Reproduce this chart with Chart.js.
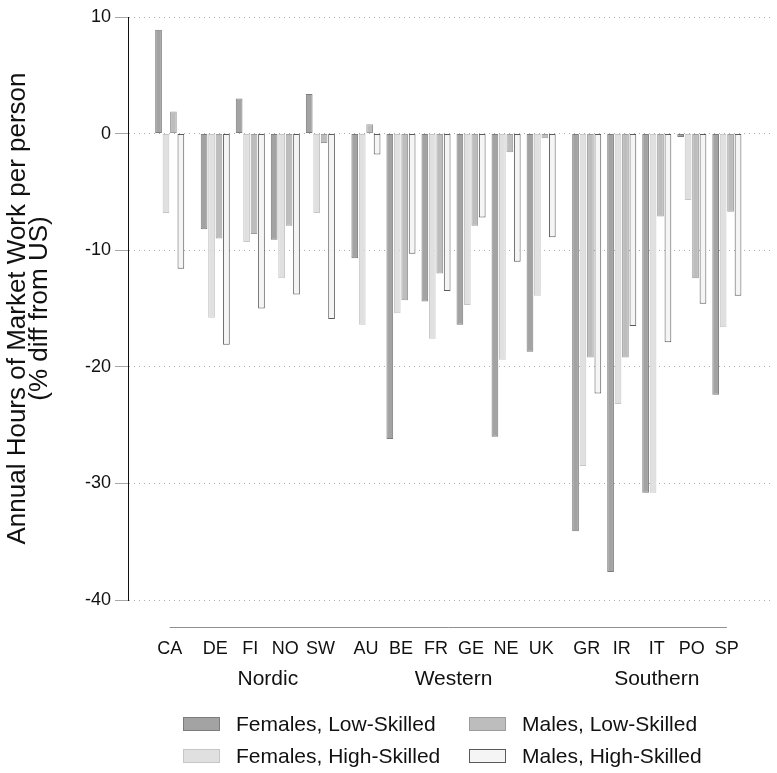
<!DOCTYPE html>
<html>
<head>
<meta charset="utf-8">
<script src="https://cdn.jsdelivr.net/npm/chart.js@4.4.1/dist/chart.umd.min.js"></script>
<style>
  html, body { margin: 0; padding: 0; background: #fff; }
  #wrap { position: relative; width: 777px; height: 773px; }
  #legend { position: absolute; left: 0; top: 0; width: 777px; height: 773px; pointer-events: none;
            font-family: "Liberation Sans", Arial, sans-serif; font-size: 21px; color: #111; }
  .item { position: absolute; display: flex; align-items: center; white-space: nowrap; height: 24px; }
  .sw { width: 37px; height: 14px; box-sizing: border-box; border: 1px solid; margin-right: 16px; }
</style>
</head>
<body>
<div id="wrap">
  <canvas id="chart" width="777" height="773"></canvas>
  <div id="legend"></div>
</div>
<script>
// ── Data ─────────────────────────────────────────────
const countries = ['CA', 'DE', 'FI', 'NO', 'SW', 'AU', 'BE', 'FR', 'GE', 'NE', 'UK', 'GR', 'IR', 'IT', 'PO', 'SP'];
const regionOf  = ['', 'Nordic', 'Nordic', 'Nordic', 'Nordic',
                   'Western', 'Western', 'Western', 'Western', 'Western', 'Western',
                   'Southern', 'Southern', 'Southern', 'Southern', 'Southern'];
const regions   = ['Nordic', 'Western', 'Southern'];

const femLow   = [8.9, -8.2, 3.0, -9.1, 3.4, -10.7, -26.2, -14.4, -16.4, -26.0, -18.7, -34.1, -37.6, -30.8, -0.3, -22.4];
const femHigh  = [-6.8, -15.8, -9.3, -12.4, -6.8, -16.4, -15.4, -17.6, -14.7, -19.4, -13.9, -28.5, -23.2, -30.8, -5.7, -16.6];
const maleLow  = [1.9, -9.0, -8.6, -7.9, -0.8, 0.8, -14.3, -12.0, -7.9, -1.6, -0.4, -19.2, -19.2, -7.1, -12.4, -6.7];
const maleHigh = [-11.6, -18.1, -15.0, -13.8, -15.9, -1.8, -10.3, -13.5, -7.2, -11.0, -8.9, -22.3, -16.5, -17.9, -14.6, -13.9];

const seriesNames = ['Females, Low-Skilled', 'Females, High-Skilled', 'Males, Low-Skilled', 'Males, High-Skilled'];
const yTicks = [10, 0, -10, -20, -30, -40];

// ── Layout helpers ───────────────────────────────────
// one unit per country, a little extra space where the region changes
let gap = 0;
const pos = countries.map((c, i) => {
  if (i > 0 && regionOf[i] !== regionOf[i - 1]) gap += 0.3;
  return i + gap;
});
const regionCenters = regions.map(r => {
  const p = pos.filter((_, i) => regionOf[i] === r);
  return (p[0] + p[p.length - 1]) / 2;
});
const xMin = pos[0] - 1.19;
const xMax = pos[pos.length - 1] + 1.25;

const fills   = ['#a3a3a3', '#e0e0e0', '#bdbdbd', '#f5f5f5'];
const borders = ['#7c7c7c', '#c6c6c6', '#9c9c9c', '#5a5a5a'];
const FONT = '"Liberation Sans", Arial, sans-serif';

// ── Chart ────────────────────────────────────────────
const groupLine = {
  id: 'groupLine',
  afterDraw(chart) {
    const x = chart.scales.x, ctx = chart.ctx;
    const y = Math.round(chart.chartArea.bottom + 27) + 0.5;
    ctx.save();
    ctx.strokeStyle = '#909090';
    ctx.lineWidth = 1;
    ctx.beginPath();
    ctx.moveTo(x.getPixelForValue(pos[0]), y);
    ctx.lineTo(x.getPixelForValue(pos[pos.length - 1]), y);
    ctx.stroke();
    ctx.restore();
  }
};

const chart = new Chart(document.getElementById('chart'), {
  type: 'bar',
  data: {
    datasets: [femLow, femHigh, maleLow, maleHigh].map((vals, k) => ({
      label: seriesNames[k],
      data: vals.map((v, i) => ({ x: pos[i], y: v })),
      backgroundColor: fills[k],
      borderColor: borders[k],
      borderWidth: 1,
      borderSkipped: false,
      categoryPercentage: 0.85,
      barPercentage: 0.9
    }))
  },
  options: {
    responsive: false,
    animation: false,
    layout: { padding: { top: 17, right: 2, bottom: 73, left: 0 } },
    plugins: { legend: { display: false }, tooltip: { enabled: false } },
    scales: {
      x: {
        type: 'linear', min: xMin, max: xMax, offset: false,
        grid: { display: false, drawTicks: false },
        border: { display: false },
        afterBuildTicks: s => { s.ticks = pos.map(v => ({ value: v })); },
        afterFit: s => { s.height = 60; },
        ticks: {
          autoSkip: false, maxRotation: 0, padding: 38,
          color: '#111', font: { family: FONT, size: 18 },
          callback: (v, i) => countries[i]
        }
      },
      x2: {
        type: 'linear', position: 'bottom', weight: 1, min: xMin, max: xMax, offset: false,
        grid: { display: false, drawTicks: false },
        border: { display: false },
        afterBuildTicks: s => { s.ticks = regionCenters.map(v => ({ value: v })); },
        afterFit: s => { s.height = 40; },
        ticks: {
          autoSkip: false, maxRotation: 0, padding: 7,
          color: '#111', font: { family: FONT, size: 21 },
          callback: (v, i) => regions[i]
        }
      },
      y: {
        min: -40, max: 10,
        afterBuildTicks: s => { s.ticks = yTicks.map(v => ({ value: v })); },
        afterFit: s => { s.width = 128; },
        grid: { color: '#ababab', lineWidth: 1, tickLength: 13, tickColor: '#a8a8a8', tickWidth: 1 },
        border: { color: '#111', width: 1, dash: [1, 4] },
        ticks: { color: '#111', padding: 4, font: { family: FONT, size: 18 } },
        title: {
          display: true,
          text: ['Annual Hours of Market Work per person', '(% diff from US)'],
          color: '#111',
          font: { family: FONT, size: 26, lineHeight: 0.85 },
          padding: { top: 7, bottom: 0 }
        }
      }
    }
  },
  plugins: [groupLine]
});

// ── Legend (two columns, like the original) ─────────
const legendSlots = [[183, 724], [183, 756], [469, 724], [469, 756]];
const legend = document.getElementById('legend');
seriesNames.forEach((name, k) => {
  const div = document.createElement('div');
  div.className = 'item';
  div.style.left = legendSlots[k][0] + 'px';
  div.style.top  = (legendSlots[k][1] - 12) + 'px';
  div.innerHTML = `<span class="sw" style="background:${fills[k]};border-color:${borders[k]}"></span>${name}`;
  legend.appendChild(div);
});
</script>
</body>
</html>
